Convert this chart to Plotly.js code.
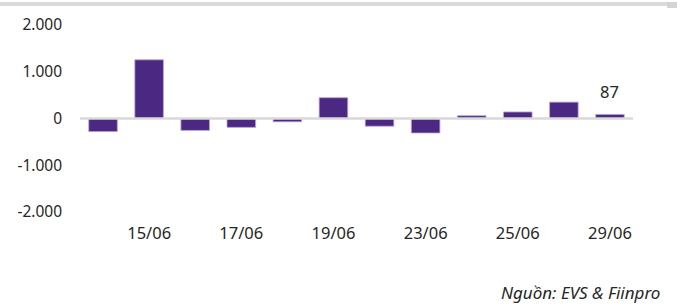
<!DOCTYPE html>
<html>
<head>
<meta charset="utf-8">
<script src="https://cdn.plot.ly/plotly-3.0.1.min.js"></script>
<style>html,body{margin:0;padding:0;background:#fff;}#chart{width:677px;height:305px;}</style>
</head>
<body>
<div id="chart"></div>
<script>
// Data
const dates = ['14/06','15/06','16/06','17/06','18/06','19/06','22/06','23/06','24/06','25/06','26/06','29/06'];
const values = [-280, 1255, -255, -190, -70, 445, -165, -310, 60, 140, 350, 87];
const shownDates = ['15/06','17/06','19/06','23/06','25/06','29/06'];
const yTickVals = [-2000, -1000, 0, 1000, 2000];
const yTickText = ['-2.000', '-1.000', '0', '1.000', '2.000'];
const sourceText = 'Nguồn: EVS & Fiinpro';

const W = 677, H = 305;
const M = {l: 80, r: 44, t: 25, b: 93};
const plotW = W - M.l - M.r, plotH = H - M.t - M.b;
const px2x = p => (p - M.l) / plotW;
const px2y = p => (H - M.b - p) / plotH;

const font = 'Noto Sans, Open Sans, sans-serif';
const txtColor = '#262626';

const trace = {
  type: 'bar',
  x: dates,
  y: values,
  marker: {color: '#4B2882', line: {color: '#B9A6D6', width: 0.8}},
  hoverinfo: 'x+y'
};

const layout = {
  width: W, height: H,
  margin: M,
  paper_bgcolor: '#fff', plot_bgcolor: '#fff',
  showlegend: false,
  bargap: 0.38,
  font: {family: font, size: 15, color: txtColor},
  xaxis: {
    type: 'category',
    range: [-0.5, dates.length - 0.5],
    tickvals: shownDates,
    ticktext: shownDates,
    showgrid: false, zeroline: false, showline: false, ticks: '',
    ticklabelstandoff: 9,
    tickfont: {family: font, size: 16.5, color: txtColor}
  },
  yaxis: {
    range: [-2000, 2000],
    tickvals: yTickVals,
    ticktext: yTickText,
    showgrid: false, zeroline: false, showline: false, ticks: '',
    ticklabelstandoff: 17,
    tickfont: {family: font, size: 15.5, color: txtColor}
  },
  shapes: [
    {type: 'line', xref: 'paper', yref: 'y', x0: 0, x1: 1, y0: 0, y1: 0,
     line: {color: '#D9D9D9', width: 2.5}, layer: 'above'},
    {type: 'rect', xref: 'paper', yref: 'paper', x0: px2x(0), x1: px2x(677), y0: px2y(6), y1: px2y(2),
     fillcolor: '#DADADA', line: {width: 0}},
    {type: 'rect', xref: 'paper', yref: 'paper', x0: px2x(667), x1: px2x(677), y0: px2y(8), y1: px2y(2),
     fillcolor: '#D4D4D4', line: {width: 0}}
  ],
  annotations: [
    {x: dates[dates.length - 1], y: values[values.length - 1], xref: 'x', yref: 'y',
     text: String(values[values.length - 1]), showarrow: false, yanchor: 'bottom', yshift: 9,
     font: {family: font, size: 16.5, color: txtColor}},
    {x: px2x(662), y: px2y(292), xref: 'paper', yref: 'paper', xanchor: 'right', yanchor: 'middle',
     text: '<i>' + sourceText + '</i>', showarrow: false,
     font: {family: font, size: 17, color: txtColor}}
  ]
};

Plotly.newPlot('chart', [trace], layout, {displayModeBar: false, staticPlot: true});
</script>
</body>
</html>
